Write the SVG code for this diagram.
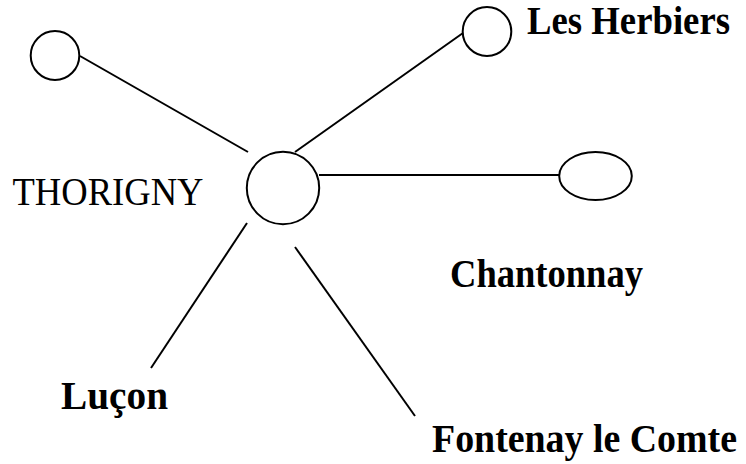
<svg xmlns="http://www.w3.org/2000/svg" width="746" height="464" viewBox="0 0 746 464">
<style>
.node{fill:#fff;stroke:#000;stroke-width:2}
.edge{stroke:#000;stroke-width:2;fill:none}
.lbl{font-family:"Liberation Serif","Times New Roman",serif;font-size:39.5px;fill:#000}
.b{font-weight:bold}
</style>
<rect width="746" height="464" fill="#fff"/>
<g id="connectors">
<line class="edge" x1="80" y1="56" x2="248" y2="152"/>
<line class="edge" x1="295" y1="152" x2="463" y2="33"/>
<line class="edge" x1="319" y1="175" x2="560" y2="175"/>
<line class="edge" x1="247" y1="223" x2="151" y2="368"/>
<line class="edge" x1="295" y1="247" x2="415" y2="416"/>
</g>
<g id="node-topleft"><ellipse class="node" cx="55" cy="55.5" rx="24.3" ry="24.5"/></g>
<g id="node-thorigny"><circle class="node" cx="283" cy="188" r="36.2"/>
<text class="lbl" x="12.5" y="205" textLength="191" lengthAdjust="spacingAndGlyphs">THORIGNY</text></g>
<g id="node-lesherbiers"><ellipse class="node" cx="487" cy="31.5" rx="24.3" ry="24.5"/>
<text class="lbl b" x="527" y="33.5" textLength="203" lengthAdjust="spacingAndGlyphs">Les Herbiers</text></g>
<g id="node-chantonnay"><ellipse class="node" cx="595.5" cy="176" rx="36.3" ry="24"/>
<text class="lbl b" x="450" y="287" textLength="193" lengthAdjust="spacingAndGlyphs">Chantonnay</text></g>
<g id="node-lucon"><text class="lbl b" x="61" y="409" textLength="107" lengthAdjust="spacingAndGlyphs">Luçon</text></g>
<g id="node-fontenay"><text class="lbl b" x="432" y="452" font-size="38.5" textLength="305" lengthAdjust="spacingAndGlyphs">Fontenay le Comte</text></g>
</svg>
